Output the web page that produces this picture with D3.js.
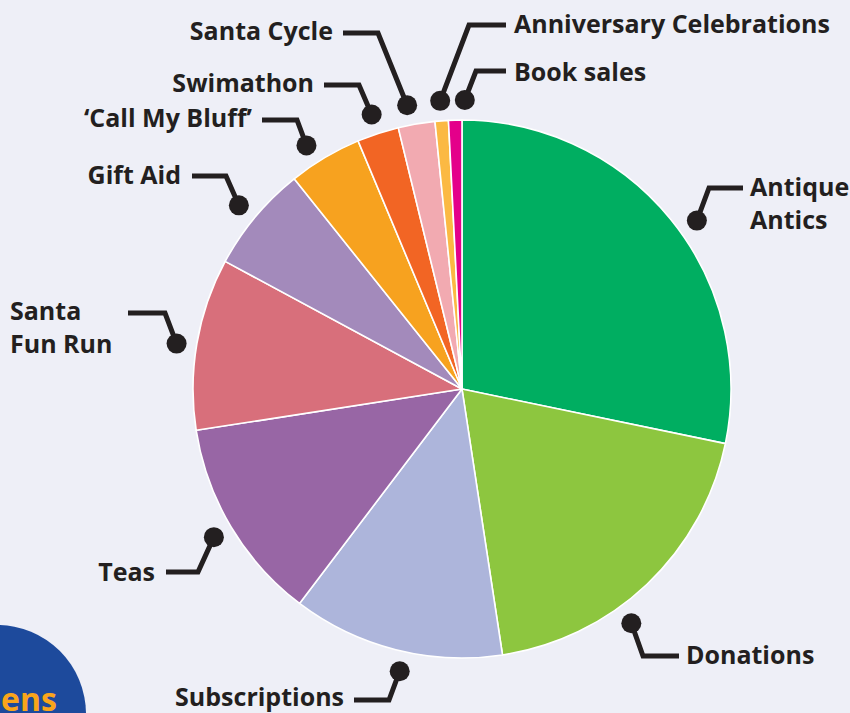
<!DOCTYPE html>
<html>
<head>
<meta charset="utf-8">
<script src="https://cdn.jsdelivr.net/npm/d3@7"></script>
<style>
  html, body { margin: 0; padding: 0; background: #eeeff7; overflow: hidden; }
  svg { display: block; }
  .lbl { font-family: "Open Sans", sans-serif; font-weight: 700; font-size: 25px; fill: #231f20; }
</style>
</head>
<body>
<div id="chart-area"></div>
<script>
// Income sources, clockwise from 12 o'clock (percent share)
let categories = ["Antique Antics", "Donations", "Subscriptions", "Teas", "Santa Fun Run",
	"Gift Aid", "\u2018Call My Bluff\u2019", "Swimathon", "Santa Cycle",
	"Anniversary Celebrations", "Book sales"];
let shares = [28.2, 19.3, 12.7, 12.2, 10.3, 6.4, 4.4, 2.5, 2.2, 0.8, 0.8];
let colours = ["#00ae61", "#8dc63f", "#adb5db", "#9866a5", "#d86f7b", "#a38abb",
	"#f7a21f", "#f26524", "#f2aab1", "#fbb943", "#e4008a"];

// label text lines (some are wrapped)
let labelLines = [["Antique", "Antics"], ["Donations"], ["Subscriptions"], ["Teas"], ["Santa", "Fun Run"],
	["Gift Aid"], ["\u2018Call My Bluff\u2019"], ["Swimathon"], ["Santa Cycle"],
	["Anniversary Celebrations"], ["Book sales"]];

let width = 850, height = 713;
let cx = 462, cy = 389, radius = 269, dotRadius = 289;

// leader layout: dot angle nudge (deg), elbow, end of horizontal, text anchor/position
let leaders = [
	{nudge: 3.5, elbow: [709, 188], end: 743, tx: 750, ty: 196, anchor: "start"},
	{nudge: 7.6, elbow: [643, 656], end: 679, tx: 686, ty: 664, anchor: "start"},
	{nudge: -1.8, elbow: [389, 700], end: 354, tx: 344, ty: 706, anchor: "end"},
	{nudge: 0, elbow: [198, 572], end: 166, tx: 155, ty: 581, anchor: "end"},
	{nudge: -0.7, elbow: [165, 313], end: 128, tx: 10, ty: 320, anchor: "start"},
	{nudge: -0.4, elbow: [226, 176], end: 192, tx: 181, ty: 184, anchor: "end"},
	{nudge: -1.9, elbow: [297, 120], end: 262, tx: 252, ty: 127, anchor: "end"},
	{nudge: 0, elbow: [359, 85], end: 324, tx: 314, ty: 92, anchor: "end"},
	{nudge: -1.2, elbow: [378, 33], end: 343, tx: 333, ty: 40, anchor: "end"},
	{nudge: 0, elbow: [469, 25], end: 506, tx: 514, ty: 33, anchor: "start"},
	{nudge: 2, elbow: [476, 71], end: 506, tx: 514, ty: 81, anchor: "start"}
];

let svg = d3.select("#chart-area").append("svg")
	.attr("width", width)
	.attr("height", height);

svg.append("rect")
	.attr("width", width)
	.attr("height", height)
	.attr("fill", "#eeeff7");

// blue badge peeking in at bottom left
svg.append("circle")
	.attr("cx", -3)
	.attr("cy", 714)
	.attr("r", 89)
	.attr("fill", "#1d4a9c");
svg.append("text")
	.attr("x", 1)
	.attr("y", 711)
	.attr("font-family", "Open Sans, sans-serif")
	.attr("font-weight", 700)
	.attr("font-size", 32)
	.attr("fill", "#f9a51b")
	.text("ens");

let data = categories.map((c, i) => ({name: c, value: shares[i], colour: colours[i], lines: labelLines[i]}));

let pie = d3.pie().sort(null).value(d => d.value);
let arcs = pie(data);
let arc = d3.arc().innerRadius(0).outerRadius(radius);

let g = svg.append("g")
	.attr("transform", "translate(" + cx + "," + cy + ")");

g.selectAll("path")
	.data(arcs)
	.enter()
	.append("path")
	.attr("d", arc)
	.attr("fill", d => d.data.colour)
	.attr("stroke", "#ffffff")
	.attr("stroke-width", 1.6)
	.attr("stroke-linejoin", "round");

// leaders + dots
let toXY = (a, r) => [cx + r * Math.sin(a), cy - r * Math.cos(a)];

arcs.forEach((d, i) => {
	let L = leaders[i];
	let mid = (d.startAngle + d.endAngle) / 2 + L.nudge * Math.PI / 180;
	let p = toXY(mid, dotRadius);

	svg.append("path")
		.attr("d", d3.line()([p, L.elbow, [L.end, L.elbow[1]]]))
		.attr("fill", "none")
		.attr("stroke", "#231f20")
		.attr("stroke-width", 5);

	svg.append("circle")
		.attr("cx", p[0])
		.attr("cy", p[1])
		.attr("r", 10)
		.attr("fill", "#231f20");

	let t = svg.append("text")
		.attr("class", "lbl")
		.attr("text-anchor", L.anchor)
		.attr("x", L.tx)
		.attr("y", L.ty);
	d.data.lines.forEach((line, j) => {
		t.append("tspan")
			.attr("x", L.tx)
			.attr("dy", j == 0 ? 0 : 33)
			.text(line);
	});
});
</script>
</body>
</html>
